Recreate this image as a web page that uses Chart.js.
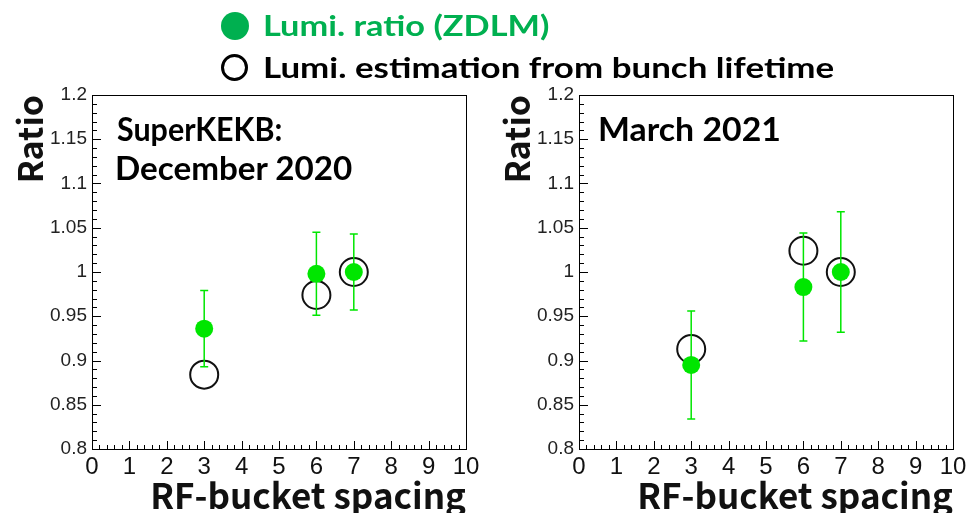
<!DOCTYPE html>
<html>
<head>
<meta charset="utf-8">
<title>Lumi. ratio vs RF-bucket spacing</title>
<script src="https://cdn.jsdelivr.net/npm/chart.js@4.4.1/dist/chart.umd.min.js"></script>
<style>
  html, body { margin: 0; padding: 0; background: #fff; }
  #page { position: relative; width: 975px; height: 513px; overflow: hidden; }
  canvas { position: absolute; top: 0; }
  #graficoDic { left: 0; }
  #graficoMar { left: 487px; }
  .txt { position: absolute; white-space: nowrap; transform-origin: 0 0; }
  .marca { position: absolute; border-radius: 50%; box-sizing: border-box; }
</style>
</head>
<body>
<div id="page">
  <canvas id="graficoDic" width="487" height="513"></canvas>
  <canvas id="graficoMar" width="488" height="513"></canvas>
  <div class="marca" style="left:221px;top:12px;width:28px;height:28px;background:#00b050"></div>
  <div class="marca" style="left:221px;top:54px;width:27px;height:27px;border:3.5px solid #000"></div>
</div>
<script>
// Datos
const espaciado = [3, 6, 7];

const dic2020Zdlm = [0.936, 0.998, 1.0];
const dic2020Error = [0.043, 0.047, 0.043];
const dic2020Vida = [0.884, 0.974, 1.0];

const mar2021Zdlm = [0.895, 0.983, 1.0];
const mar2021Error = [0.061, 0.061, 0.068];
const mar2021Vida = [0.913, 1.024, 1.0];

const xTicks = [0, 1, 2, 3, 4, 5, 6, 7, 8, 9, 10];
const yTicks = [0.8, 0.85, 0.9, 0.95, 1, 1.05, 1.1, 1.15, 1.2];

const VERDE = '#00e600';

// Divide cada intervalo entre ticks mayores en n partes (ticks menores)
function subdividir(ticks, n) {
    const out = [];
    for (let i = 0; i < ticks.length - 1; i++) {
        for (let k = 0; k < n; k++) {
            out.push(ticks[i] + (ticks[i + 1] - ticks[i]) * k / n);
        }
    }
    out.push(ticks[ticks.length - 1]);
    return out;
}

// Marco negro y ticks hacia dentro, estilo ROOT
const marcoRoot = {
    id: 'marcoRoot',
    beforeDatasetsDraw(chart) {
        const { ctx, chartArea: a, scales: { x, y } } = chart;
        ctx.save();
        ctx.strokeStyle = '#000';
        ctx.lineWidth = 1;
        ctx.strokeRect(a.left + 0.5, a.top + 0.5, a.right - a.left, a.bottom - a.top);
        ctx.beginPath();
        subdividir(xTicks, 5).forEach((v, i) => {
            const px = Math.round(x.getPixelForValue(v)) + 0.5;
            const largo = i % 5 === 0 ? 8 : 4;
            ctx.moveTo(px, a.bottom);
            ctx.lineTo(px, a.bottom - largo);
        });
        subdividir(yTicks, 5).forEach((v, i) => {
            const py = Math.round(y.getPixelForValue(v)) + 0.5;
            const largo = i % 5 === 0 ? 9 : 5;
            ctx.moveTo(a.left, py);
            ctx.lineTo(a.left + largo, py);
        });
        ctx.stroke();
        ctx.restore();
    }
};

// Barras de error verticales con remate
const barrasError = {
    id: 'barrasError',
    beforeDatasetDraw(chart, args) {
        const ds = chart.data.datasets[args.index];
        if (!ds.errores) return;
        const { ctx, scales: { x, y } } = chart;
        ctx.save();
        ctx.strokeStyle = ds.backgroundColor;
        ctx.lineWidth = 1.5;
        ctx.beginPath();
        ds.data.forEach((p, i) => {
            const px = x.getPixelForValue(p.x);
            const arriba = y.getPixelForValue(p.y + ds.errores[i]);
            const abajo = y.getPixelForValue(p.y - ds.errores[i]);
            ctx.moveTo(px, arriba);
            ctx.lineTo(px, abajo);
            ctx.moveTo(px - 4, arriba);
            ctx.lineTo(px + 4, arriba);
            ctx.moveTo(px - 4, abajo);
            ctx.lineTo(px + 4, abajo);
        });
        ctx.stroke();
        ctx.restore();
    }
};

function crearGrafico(id, zdlm, errores, vida, padDerecha) {
    return new Chart(document.getElementById(id), {
        type: 'scatter',
        data: {
            datasets: [{
                label: 'Lumi. ratio (ZDLM)',
                data: espaciado.map((x, i) => ({ x, y: zdlm[i] })),
                errores: errores,
                backgroundColor: VERDE,
                borderWidth: 0,
                pointRadius: 9
            }, {
                label: 'Lumi. estimation from bunch lifetime',
                data: espaciado.map((x, i) => ({ x, y: vida[i] })),
                backgroundColor: 'rgba(0,0,0,0)',
                borderColor: '#111',
                borderWidth: 2,
                pointRadius: 14
            }]
        },
        options: {
            responsive: false,
            animation: false,
            layout: { padding: { top: 95, right: padDerecha, left: 0, bottom: 0 } },
            scales: {
                x: {
                    type: 'linear',
                    min: 0,
                    max: 10,
                    grid: { display: false, drawTicks: false },
                    border: { display: false },
                    afterBuildTicks: s => { s.ticks = xTicks.map(value => ({ value })); },
                    afterFit: s => { s.height = 64; },
                    ticks: {
                        font: { family: 'Liberation Sans', size: 24 },
                        color: '#111',
                        padding: 4,
                        maxRotation: 0,
                        autoSkip: false,
                        callback: v => String(v)
                    },
                    title: {
                        display: true,
                        text: 'RF-bucket spacing',
                        align: 'end',
                        color: '#111',
                        font: { family: 'Noto Sans CJK JP', weight: 'bold', size: 35 },
                        padding: { top: 0, bottom: -4 }
                    }
                },
                y: {
                    min: 0.8,
                    max: 1.2,
                    grid: { display: false, drawTicks: false },
                    border: { display: false },
                    afterBuildTicks: s => { s.ticks = yTicks.map(value => ({ value })); },
                    afterFit: s => { s.width = 92; },
                    ticks: {
                        font: { family: 'Liberation Sans', size: 19 },
                        color: '#222',
                        padding: 5,
                        callback: v => String(+v.toFixed(2))
                    },
                    title: {
                        display: true,
                        text: 'Ratio',
                        align: 'end',
                        color: '#111',
                        font: { family: 'Noto Sans CJK JP', weight: 'bold', size: 34 },
                        padding: { top: 10, bottom: 0 }
                    }
                }
            },
            plugins: {
                legend: { display: false },
                tooltip: { enabled: false }
            }
        },
        plugins: [marcoRoot, barrasError]
    });
}

// Texto HTML ajustado a la altura de mayúscula y al ancho medidos
const medidor = document.createElement('canvas').getContext('2d');
function colocarTexto(texto, { x, base, altoMay, ancho, color }) {
    const familia = 'Lato';
    medidor.font = `bold 100px ${familia}`;
    const tam = altoMay / (medidor.measureText('H').actualBoundingBoxAscent / 100);
    medidor.font = `bold ${tam}px ${familia}`;
    const m = medidor.measureText(texto);
    const escala = ancho / (m.actualBoundingBoxLeft + m.actualBoundingBoxRight);
    const el = document.createElement('div');
    el.className = 'txt';
    el.textContent = texto;
    Object.assign(el.style, {
        font: `bold ${tam}px ${familia}`,
        lineHeight: (m.fontBoundingBoxAscent + m.fontBoundingBoxDescent) + 'px',
        color: color,
        left: (x + m.actualBoundingBoxLeft * escala) + 'px',
        top: (base - m.fontBoundingBoxAscent) + 'px',
        transform: `scaleX(${escala})`
    });
    document.getElementById('page').appendChild(el);
}

crearGrafico('graficoDic', dic2020Zdlm, dic2020Error, dic2020Vida, 21);
crearGrafico('graficoMar', mar2021Zdlm, mar2021Error, mar2021Vida, 22);

colocarTexto('Lumi. ratio (ZDLM)', { x: 265, base: 36, altoMay: 21, ancho: 283, color: '#00b050' });
colocarTexto('Lumi. estimation from bunch lifetime', { x: 265, base: 78, altoMay: 21.5, ancho: 568, color: '#000' });
colocarTexto('SuperKEKB:', { x: 117, base: 141, altoMay: 24, ancho: 164, color: '#000' });
colocarTexto('December 2020', { x: 117, base: 180, altoMay: 24, ancho: 236, color: '#000' });
colocarTexto('March 2021', { x: 600, base: 141, altoMay: 23.5, ancho: 179, color: '#000' });
</script>
</body>
</html>
